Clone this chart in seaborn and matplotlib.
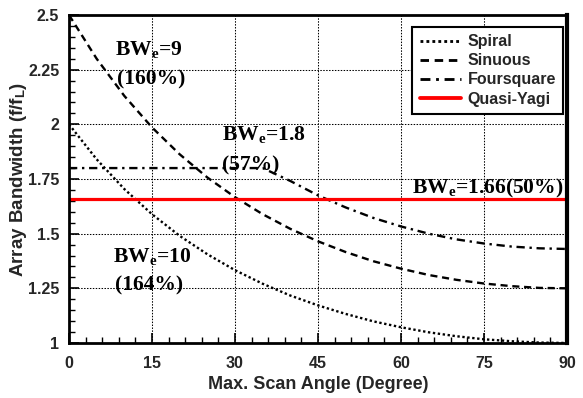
import matplotlib
matplotlib.use("Agg")
import matplotlib.pyplot as plt
import seaborn as sns
import pandas as pd
from matplotlib.ticker import MultipleLocator
from matplotlib.font_manager import FontProperties

# ---- data ----
angles = [0, 5, 10, 15, 20, 25, 30, 35, 40, 45, 50, 55, 60, 65, 70, 75, 80, 85, 90]
spiral = [2.000, 1.840, 1.704, 1.589, 1.490, 1.406, 1.333, 1.271, 1.217, 1.172,
          1.133, 1.099, 1.072, 1.049, 1.031, 1.017, 1.008, 1.002, 1.000]
sinuous = [2.500, 2.300, 2.130, 1.986, 1.863, 1.757, 1.667, 1.589, 1.522, 1.465,
           1.416, 1.374, 1.340, 1.311, 1.289, 1.272, 1.260, 1.252, 1.250]
foursquare = [1.800, 1.800, 1.800, 1.800, 1.800, 1.800, 1.800, 1.800, 1.741, 1.675,
              1.620, 1.572, 1.533, 1.500, 1.474, 1.455, 1.441, 1.433, 1.430]
quasi_yagi = [1.66] * len(angles)

series_names = ["Spiral", "Sinuous", "Foursquare", "Quasi-Yagi"]
x_ticks = [0, 15, 30, 45, 60, 75, 90]
y_ticks = [1, 1.25, 1.5, 1.75, 2, 2.25, 2.5]
y_tick_labels = ["1", "1.25", "1.5", "1.75", "2", "2.25", "2.5"]

annotations = [
    ("BW$_\\mathrm{e}$=9", 8.3, 2.317),
    ("(160%)", 8.7, 2.180),
    ("BW$_\\mathrm{e}$=1.8", 27.6, 1.928),
    ("(57%)", 27.6, 1.791),
    ("BW$_\\mathrm{e}$=1.66(50%)", 62.0, 1.686),
    ("BW$_\\mathrm{e}$=10", 7.95, 1.370),
    ("(164%)", 8.3, 1.242),
]

df = pd.DataFrame({"angle": angles, "Spiral": spiral, "Sinuous": sinuous,
                   "Foursquare": foursquare, "Quasi-Yagi": quasi_yagi})

sns.set_style("ticks")
plt.rcParams["font.family"] = ["Liberation Sans", "DejaVu Sans"]
plt.rcParams["font.weight"] = "bold"
plt.rcParams["mathtext.fontset"] = "custom"
plt.rcParams["mathtext.rm"] = "Liberation Serif:bold"
plt.rcParams["mathtext.it"] = "Liberation Serif:bold"
plt.rcParams["mathtext.bf"] = "Liberation Serif:bold"
plt.rcParams["mathtext.sf"] = "Liberation Sans:bold"

fig = plt.figure(figsize=(5.83, 3.98), dpi=100)
ax = fig.add_axes([69 / 583, 55 / 398, 498 / 583, 328 / 398])

# dotted major grid, drawn from the tick lists
for xv in x_ticks:
    ax.axvline(xv, color="black", linestyle=(0, (1.4, 1.4)), linewidth=0.75, zorder=0.8)
for yv in y_ticks:
    ax.axhline(yv, color="black", linestyle=(0, (1.4, 1.4)), linewidth=0.75, zorder=0.8)

styles = {
    "Spiral": dict(color="black", linestyle=(0, (1, 1.1)), linewidth=1.7),
    "Sinuous": dict(color="black", linestyle=(0, (3, 2)), linewidth=1.7),
    "Foursquare": dict(color="black", linestyle=(0, (3.5, 2, 1, 2)), linewidth=1.7),
    "Quasi-Yagi": dict(color="#ff0000", linestyle="-", linewidth=2.3),
}
for name in series_names:
    sns.lineplot(data=df, x="angle", y=name, ax=ax, label=name, zorder=2, **styles[name])

ax.set_xlim(0, 90)
ax.set_ylim(1, 2.5)
ax.set_xticks(x_ticks)
ax.set_yticks(y_ticks)
ax.set_yticklabels(y_tick_labels)
ax.xaxis.set_minor_locator(MultipleLocator(3))
ax.yaxis.set_minor_locator(MultipleLocator(0.05))
ax.tick_params(which="both", direction="in", color="black")
ax.tick_params(which="major", length=7, width=1.2, labelsize=11.5, pad=7)
ax.tick_params(axis="x", which="major", pad=9)
ax.tick_params(which="minor", length=4, width=1.0)
for lab in ax.get_xticklabels() + ax.get_yticklabels():
    lab.set_fontweight("bold")

for side in ["left", "bottom", "top"]:
    ax.spines[side].set_linewidth(2)
    ax.spines[side].set_color("black")
ax.spines["right"].set_linewidth(3)
ax.spines["right"].set_color("black")

ax.set_xlabel("Max. Scan Angle (Degree)", fontsize=13, fontweight="bold")
ax.set_ylabel("Array Bandwidth (f/f$_\\mathsf{L}$)", fontsize=13.5, fontweight="bold")
ax.xaxis.set_label_coords(0.5, -0.10)
ax.yaxis.set_label_coords(-0.08, 0.5)

for txt, xx, yy in annotations:
    ax.text(xx, yy, txt, fontsize=15.5, fontweight="bold",
            family=["Liberation Serif", "DejaVu Serif"], ha="left", va="baseline",
            color="black", zorder=3)

legend_font = FontProperties(family="Liberation Sans", weight="bold", size=11.5)
leg = ax.legend(loc="upper right", bbox_to_anchor=((563 - 69) / 498, (343 - 27) / 328),
                borderaxespad=0, frameon=True, fancybox=False, edgecolor="black",
                framealpha=1, prop=legend_font,
                handlelength=2.6, handletextpad=0.4, labelspacing=0.26,
                borderpad=0.45)
leg.get_frame().set_linewidth(1.5)
for h in leg.get_lines():
    h.set_linewidth(h.get_linewidth() * 1.2)

fig.savefig("out.png", dpi=100)
